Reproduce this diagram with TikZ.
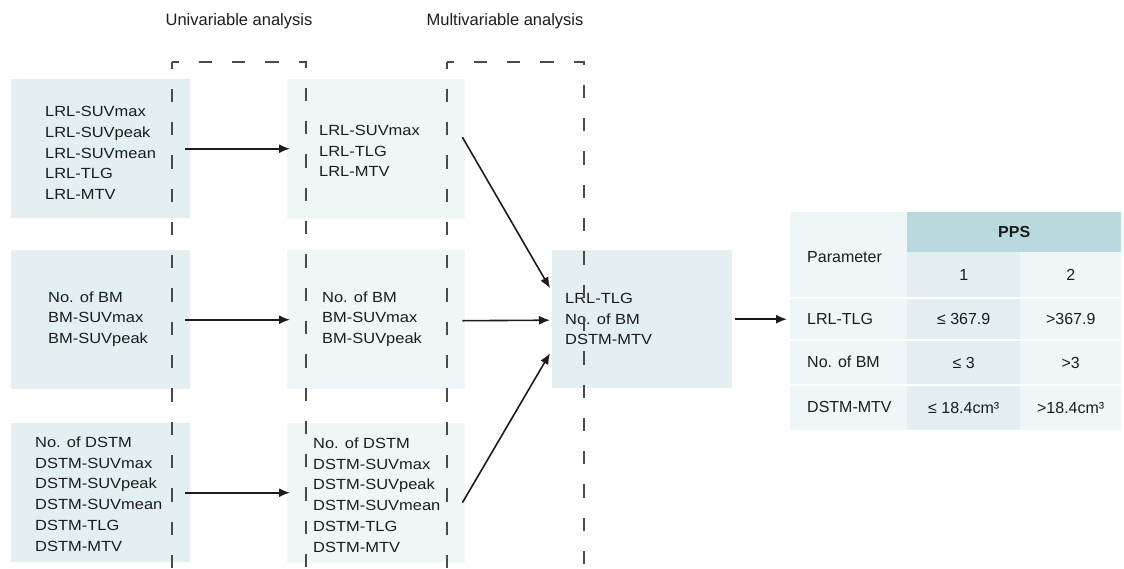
\documentclass[tikz,border=0pt]{standalone}
\usepackage{fontspec}
\setmainfont{Liberation Sans}
\newfontfamily\boxfont{Liberation Sans}[FakeStretch=1.12]
\usetikzlibrary{arrows.meta,calc}
\definecolor{boxdark}{HTML}{E3EFF1}
\definecolor{boxlight}{HTML}{EFF6F7}
\definecolor{hdr}{HTML}{B8D9DD}
\definecolor{cellA}{HTML}{E3EFF1}
\definecolor{cellB}{HTML}{EFF6F7}
\definecolor{txt}{HTML}{1C1C1C}
\definecolor{dashc}{HTML}{4A4A4A}
\begin{document}
\begin{tikzpicture}[x=1pt,y=-1pt,
  panel/.style={draw=none, anchor=north west, inner sep=0pt, minimum width=179pt, minimum height=139pt},
  lbl/.style={anchor=west, align=left, inner sep=0pt, text=txt, font=\boxfont\fontsize{14.7}{20.7}\selectfont},
  head/.style={anchor=base, inner sep=0pt, text=txt, font=\fontsize{16.5}{20}\selectfont},
  cell/.style={draw=none, anchor=north west, inner sep=0pt, text=txt, font=\fontsize{16}{19}\selectfont},
  tlbl/.style={anchor=west, inner sep=0pt, text=txt, font=\fontsize{16}{19}\selectfont},
  arr/.style={-{Latex[length=11pt,width=9pt]}, line width=1.6pt, draw=txt},
  dashline/.style={draw=dashc, line width=1.6pt, dash pattern=on 13.3pt off 20pt, dash phase=6.65pt},
  sep/.style={draw=white, line width=2pt}]
\useasboundingbox (0,0) rectangle (1124,568);

% headers
\node[head] (h1) at (239,25) {Univariable analysis};
\node[head] (h2) at (505,25) {Multivariable analysis};

% boxes
\node[panel, fill=boxdark] (L1) at (11,79) {};
\node[panel, fill=boxdark] (L2) at (11,250) {};
\node[panel, fill=boxdark] (L3) at (11,423) {};
\node[panel, fill=boxlight, minimum width=178pt] (M1) at (287,79) {};
\node[panel, fill=boxlight, minimum width=178pt] (M2) at (287,250) {};
\node[panel, fill=boxlight, minimum width=178pt] (M3) at (287,423) {};
\node[panel, fill=boxdark, minimum width=180pt, minimum height=138pt] (C) at (552,250) {};

% texts
\node[lbl] (L1t) at (45,153) {LRL-SUVmax\\LRL-SUVpeak\\LRL-SUVmean\\LRL-TLG\\LRL-MTV};
\node[lbl] (L2t) at (48,319) {No. of BM\\BM-SUVmax\\BM-SUVpeak};
\node[lbl] (L3t) at (35,494) {No. of DSTM\\DSTM-SUVmax\\DSTM-SUVpeak\\DSTM-SUVmean\\DSTM-TLG\\DSTM-MTV};
\node[lbl] (M1t) at (319,151) {LRL-SUVmax\\LRL-TLG\\LRL-MTV};
\node[lbl] (M2t) at (322,319) {No. of BM\\BM-SUVmax\\BM-SUVpeak};
\node[lbl] (M3t) at (313,495) {No. of DSTM\\DSTM-SUVmax\\DSTM-SUVpeak\\DSTM-SUVmean\\DSTM-TLG\\DSTM-MTV};
\node[lbl] (Ct) at (565,319) {LRL-TLG\\No. of BM\\DSTM-MTV};

% dashed frames
\draw[dashline] (172,62) -- (306,62) -- (306,568);
\draw[dashline] (172,62) -- (172,568);
\draw[dashline] (447,62) -- (584,62) -- (584,568);
\draw[dashline] (447,62) -- (447,568);

% table
\node[cell, fill=cellB, minimum width=117pt, minimum height=86pt] (hp) at (790,212) {};
\node[tlbl] (hpt) at (807,257) {Parameter};
\node[cell, fill=hdr, minimum width=214pt, minimum height=40pt, font=\fontsize{16}{19}\selectfont\bfseries] (pps) at (907,212) {PPS};
\node[cell, fill=cellA, minimum width=113pt, minimum height=46pt] (c1) at (907,252) {1};
\node[cell, fill=cellB, minimum width=101pt, minimum height=46pt] (c2) at (1020,252) {2};

\node[cell, fill=cellB, minimum width=117pt, minimum height=42pt] (r1p) at (790,298) {};
\node[cell, fill=cellA, minimum width=113pt, minimum height=42pt] (r1a) at (907,298) {≤ 367.9};
\node[cell, fill=cellB, minimum width=101pt, minimum height=42pt] (r1b) at (1020,298) {>367.9};
\node[cell, fill=cellB, minimum width=117pt, minimum height=45pt] (r2p) at (790,340) {};
\node[cell, fill=cellA, minimum width=113pt, minimum height=45pt] (r2a) at (907,340) {≤ 3};
\node[cell, fill=cellB, minimum width=101pt, minimum height=45pt] (r2b) at (1020,340) {>3};
\node[cell, fill=cellB, minimum width=117pt, minimum height=45pt] (r3p) at (790,385) {};
\node[cell, fill=cellA, minimum width=113pt, minimum height=45pt] (r3a) at (907,385) {≤ 18.4cm³};
\node[cell, fill=cellB, minimum width=101pt, minimum height=45pt] (r3b) at (1020,385) {>18.4cm³};

\node[tlbl] (r1t) at (807,319) {LRL-TLG};
\node[tlbl] (r2t) at (807,362) {No. of BM};
\node[tlbl] (r3t) at (807,407) {DSTM-MTV};

\draw[sep] (hp.south west) -- (c2.south east);
\draw[sep] (r1p.south west) -- (r1b.south east);
\draw[sep] (r2p.south west) -- (r2b.south east);

% arrows
\draw[arr] ($(L1.east)+(-5,0)$) -- ($(M1.west)+(3,0)$);
\draw[arr] ($(L2.east)+(-5,0)$) -- ($(M2.west)+(3,0)$);
\draw[arr] ($(L3.east)+(-5,0)$) -- ($(M3.west)+(3,0)$);
\draw[arr] ($(M1.east)+(-3,-11.5)$) -- ($(C.west)+(-2,-31)$);
\draw[arr] ($(M2.east)+(-3,1)$) -- ($(C.west)+(-2,1)$);
\draw[arr] ($(M3.east)+(-3,10)$) -- ($(C.west)+(-2,34)$);
\draw[arr] ($(C.east)+(3,0)$) -- ($(r1p.west)+(-3,0)$);
\end{tikzpicture}
\end{document}
